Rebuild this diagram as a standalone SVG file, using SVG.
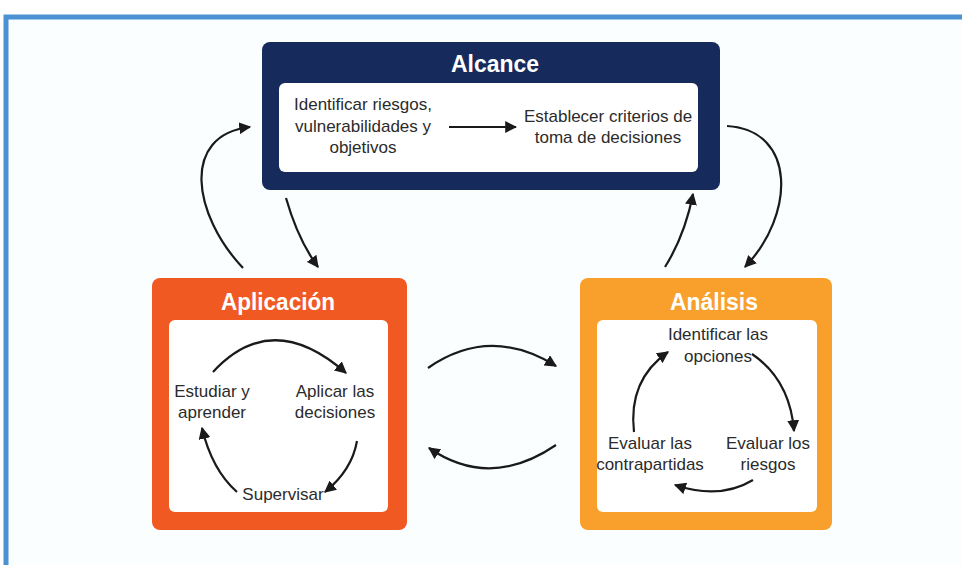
<svg xmlns="http://www.w3.org/2000/svg" width="962" height="565" viewBox="0 0 962 565">
<defs>
<marker id="ah" viewBox="0 0 10 10" refX="9" refY="5" markerWidth="12" markerHeight="12" markerUnits="userSpaceOnUse" orient="auto">
<path d="M0,0 L10,5 L0,10 z" fill="#1a1a1a"/>
</marker>
<style>
.t{font-family:"Liberation Sans",Arial,sans-serif;font-size:17px;fill:#2b2b2b;text-anchor:middle}
.h{font-family:"Liberation Sans",Arial,sans-serif;font-size:24px;font-weight:bold;fill:#ffffff;text-anchor:middle}
.c{fill:none;stroke:#1a1a1a;stroke-width:2.2;marker-end:url(#ah)}
.in{fill:#ffffff}
</style>
</defs>
<rect x="0" y="0" width="962" height="565" fill="#ffffff"/>
<rect x="6" y="17" width="970" height="560" fill="#fbfeff" stroke="#4a92d2" stroke-width="5"/>
<g id="alcance">
<rect x="262" y="42" width="458" height="148" rx="8" fill="#172a5c"/>
<rect class="in" x="279" y="83" width="419" height="89" rx="6"/>
<text class="h" x="495" y="72" textLength="88" lengthAdjust="spacingAndGlyphs">Alcance</text>
<text class="t" x="363" y="110">Identificar riesgos,</text>
<text class="t" x="363" y="132">vulnerabilidades y</text>
<text class="t" x="363" y="153">objetivos</text>
<text class="t" x="608" y="122">Establecer criterios de</text>
<text class="t" x="608" y="143">toma de decisiones</text>
<path class="c" d="M449,127 L516,127"/>
</g>
<g id="aplicacion">
<rect x="152" y="278" width="255" height="252" rx="8" fill="#f05a22"/>
<rect class="in" x="169" y="320" width="219" height="192" rx="6"/>
<text class="h" x="278" y="310" textLength="114" lengthAdjust="spacingAndGlyphs">Aplicación</text>
<text class="t" x="212" y="397">Estudiar y</text>
<text class="t" x="212" y="418">aprender</text>
<text class="t" x="335" y="397">Aplicar las</text>
<text class="t" x="335" y="418">decisiones</text>
<text class="t" x="283" y="500">Supervisar</text>
<path class="c" d="M213,372 Q272,308 346,373"/>
<path class="c" d="M357,441 Q352,470 325,492"/>
<path class="c" d="M237,492 Q212,470 202,428"/>
</g>
<g id="analisis">
<rect x="580" y="278" width="252" height="252" rx="8" fill="#f9a02c"/>
<rect class="in" x="597" y="320" width="220" height="192" rx="6"/>
<text class="h" x="714" y="310" textLength="88" lengthAdjust="spacingAndGlyphs">Análisis</text>
<text class="t" x="718" y="340">Identificar las</text>
<text class="t" x="718" y="362">opciones</text>
<text class="t" x="768" y="449">Evaluar los</text>
<text class="t" x="768" y="470">riesgos</text>
<text class="t" x="650" y="449">Evaluar las</text>
<text class="t" x="650" y="470">contrapartidas</text>
<path class="c" d="M752,354 Q790,380 794,431"/>
<path class="c" d="M753,480 Q720,500 675,485"/>
<path class="c" d="M634,432 Q628,380 668,352"/>
</g>
<g id="connectors">
<path class="c" d="M243,268 C193,215 180,135 250,127"/>
<path class="c" d="M286,198 Q298,240 318,267"/>
<path class="c" d="M727,126 C797,130 795,215 745,267"/>
<path class="c" d="M665,267 Q685,235 693,194"/>
<path class="c" d="M428,368 Q490,325 556,366"/>
<path class="c" d="M556,445 Q490,490 429,448"/>
</g>
</svg>
